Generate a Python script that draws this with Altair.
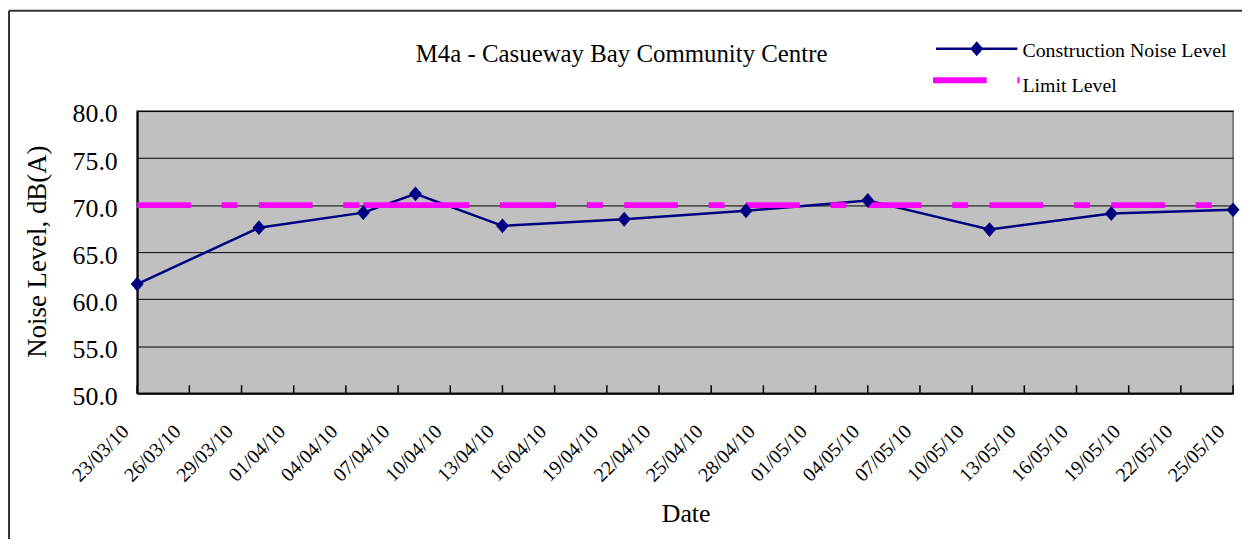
import altair as alt
import pandas as pd

# ---- data ----
dates = ["2010-03-23", "2010-03-30", "2010-04-05", "2010-04-08", "2010-04-13",
         "2010-04-20", "2010-04-27", "2010-05-04", "2010-05-11", "2010-05-18",
         "2010-05-25"]
noise = [61.6, 67.6, 69.2, 71.2, 67.8, 68.5, 69.4, 70.5, 67.4, 69.1, 69.5]
limit = [70.0] * len(dates)
tick_labels = ["23/03/10", "26/03/10", "29/03/10", "01/04/10", "04/04/10",
               "07/04/10", "10/04/10", "13/04/10", "16/04/10", "19/04/10",
               "22/04/10", "25/04/10", "28/04/10", "01/05/10", "04/05/10",
               "07/05/10", "10/05/10", "13/05/10", "16/05/10", "19/05/10",
               "22/05/10", "25/05/10"]
title_text = "M4a - Casueway Bay Community Centre"
series_names = ["Construction Noise Level", "Limit Level"]

NAVY = "#000080"
MAGENTA = "#FF00FF"
FONT = "Liberation Serif"
W, H = 1103, 284
DASH = [54, 31, 16, 22]

df = pd.DataFrame({"date": pd.to_datetime(dates), "noise": noise})
seg = pd.DataFrame({"start": pd.to_datetime(dates[:-1]),
                    "end": pd.to_datetime(dates[1:]),
                    "limit": limit[:-1]})


def to_dt(s):
    d, m, y = s.split("/")
    return alt.DateTime(year=2000 + int(y), month=int(m), date=int(d))


tick_vals = [to_dt(s) for s in tick_labels]
ticks_df = pd.DataFrame({"t": pd.to_datetime(tick_labels, format="%d/%m/%y")})

xscale = alt.Scale(domain=[to_dt(tick_labels[0]), to_dt(tick_labels[-1])], nice=False)
yscale = alt.Scale(domain=[50, 80], nice=False, zero=False)

xaxis = alt.Axis(values=tick_vals, format="%d/%m/%y", formatType="time",
                 labelAngle=-45, labelAlign="right", labelBaseline="middle",
                 labelPadding=35, labelOffset=-12, labelFontSize=20,
                 labelFont=FONT, labelColor="black", tickSize=0, grid=False,
                 domainColor="black", domainWidth=2, labelOverlap=False,
                 title="Date", titleFont=FONT, titleFontSize=26,
                 titleFontWeight="normal", titleColor="black",
                 titleX=552, titleY=121, titleAlign="center",
                 titleBaseline="middle")
yaxis = alt.Axis(values=[50, 55, 60, 65, 70, 75, 80], format=".1f",
                 labelFontSize=26, labelFont=FONT, labelColor="black",
                 labelPadding=20, labelOffset=3, tickSize=0, grid=True,
                 gridColor="black", gridWidth=1, domainColor="black",
                 domainWidth=2,
                 title="Noise Level, dB(A)", titleFont=FONT, titleFontSize=27,
                 titleFontWeight="normal", titleColor="black",
                 titleAngle=270, titleX=-100, titleY=141,
                 titleAlign="center", titleBaseline="middle")

one = pd.DataFrame({"a": [0]})

line = alt.Chart(df).mark_line(color=NAVY, strokeWidth=2.5).encode(
    x=alt.X("date:T", scale=xscale, axis=xaxis),
    y=alt.Y("noise:Q", scale=yscale, axis=yaxis),
)

limit_line = alt.Chart(seg).mark_rule(
    color=MAGENTA, strokeWidth=6, strokeDash=DASH, strokeCap="butt"
).encode(
    x=alt.X("start:T", scale=xscale),
    x2="end:T",
    y=alt.Y("limit:Q", scale=yscale),
)

DIAMOND = "M-1,0L0,-1.15L1,0L0,1.15Z"
points = alt.Chart(df).mark_point(
    shape=DIAMOND, filled=True, color=NAVY, size=169, opacity=1
).encode(
    x=alt.X("date:T", scale=xscale),
    y=alt.Y("noise:Q", scale=yscale),
)

inner_ticks = alt.Chart(ticks_df).mark_rule(color="black", strokeWidth=1.5).encode(
    x=alt.X("t:T", scale=xscale),
    y=alt.value(H - 8),
    y2=alt.value(H),
)


def text_layer(txt, x, y, size, align="left"):
    return alt.Chart(pd.DataFrame({"txt": [txt]})).mark_text(
        font=FONT, fontSize=size, align=align, baseline="middle", color="black"
    ).encode(text="txt:N", x=alt.value(x), y=alt.value(y))


title = text_layer(title_text, 487.6, -57.5, 25, align="center")
leg_t1 = text_layer(series_names[0], 891, -60, 20)
leg_t2 = text_layer(series_names[1], 891, -25, 20)

leg_line = alt.Chart(one).mark_rule(color=NAVY, strokeWidth=2.5).encode(
    x=alt.value(804), x2=alt.value(886), y=alt.value(-62.7))
leg_pt = alt.Chart(one).mark_point(
    shape=DIAMOND, filled=True, color=NAVY, size=169, opacity=1
).encode(x=alt.value(845), y=alt.value(-62.7))
leg_lim = alt.Chart(one).mark_rule(
    color=MAGENTA, strokeWidth=6, strokeDash=DASH, strokeCap="butt"
).encode(x=alt.value(801), x2=alt.value(888), y=alt.value(-31))

border_top = alt.Chart(one).mark_rule(color="#333333", strokeWidth=2).encode(
    x=alt.value(-129), x2=alt.value(W + 20), y=alt.value(-101))
border_left = alt.Chart(one).mark_rule(color="#333333", strokeWidth=2).encode(
    x=alt.value(-129), y=alt.value(-101), y2=alt.value(H + 160))

chart = alt.layer(
    line, limit_line, points, inner_ticks,
    title, leg_line, leg_pt, leg_t1, leg_lim, leg_t2,
    border_top, border_left,
).properties(
    width=W, height=H,
    autosize=alt.AutoSizeParams(type="none"),
    padding={"left": 130, "top": 102, "right": 9, "bottom": 145},
    background="white",
).configure_view(
    fill="#C0C0C0", stroke="#808080", strokeWidth=2
)

chart.save("out.html", embed_options={"renderer": "svg", "actions": False})
